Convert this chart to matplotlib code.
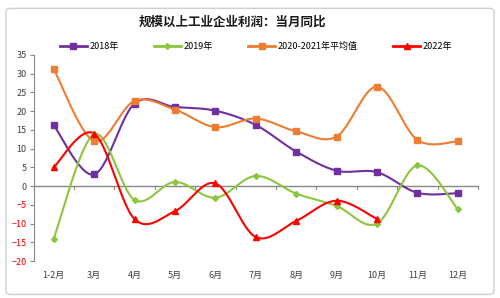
import numpy as np
import matplotlib
matplotlib.use('Agg')
import matplotlib.pyplot as plt
from matplotlib.patches import FancyBboxPatch

plt.rcParams['font.family'] = ['Noto Sans CJK SC', 'DejaVu Sans']

# data
months = ['1-2月', '3月', '4月', '5月', '6月', '7月', '8月', '9月', '10月', '11月', '12月']
y2018 = [16.2, 3.1, 22.0, 21.1, 20.1, 16.3, 9.2, 4.1, 3.7, -1.8, -1.9]
y2019 = [-14.0, 13.8, -3.7, 1.1, -3.1, 2.7, -2.0, -5.3, -10.0, 5.5, -6.2]
yavg = [31.2, 12.0, 22.7, 20.4, 15.7, 18.0, 14.6, 13.2, 26.5, 12.3, 11.9]
y2022 = [5.0, 14.0, -8.8, -6.7, 0.7, -13.6, -9.3, -3.9, -8.8]

def smooth(xs, ys, n=30):
    # excel style smoothed line (catmull-rom bezier)
    xs = np.asarray(xs, float)
    ys = np.asarray(ys, float)
    px = np.concatenate([[xs[0]], xs, [xs[-1]]])
    py = np.concatenate([[ys[0]], ys, [ys[-1]]])
    outx, outy = [], []
    t = np.linspace(0, 1, n)
    for i in range(1, len(px) - 2):
        p0 = np.array([px[i], py[i]])
        p3 = np.array([px[i + 1], py[i + 1]])
        p1 = p0 + (np.array([px[i + 1], py[i + 1]]) - np.array([px[i - 1], py[i - 1]])) / 6
        p2 = p3 - (np.array([px[i + 2], py[i + 2]]) - np.array([px[i], py[i]])) / 6
        b = ((1 - t) ** 3)[:, None] * p0 + (3 * (1 - t) ** 2 * t)[:, None] * p1 \
            + (3 * (1 - t) * t ** 2)[:, None] * p2 + (t ** 3)[:, None] * p3
        outx.extend(b[:, 0])
        outy.extend(b[:, 1])
    return outx, outy

fig = plt.figure(figsize=(5, 2.98), dpi=100)
ax = fig.add_axes([0.067, 0.124, 0.889, 0.692])

series = [
    ('2018年', y2018, '#7030A0', 's', 5),
    ('2019年', y2019, '#8CC63E', 'D', 3),
    ('2020-2021年平均值', yavg, '#ED7D31', 's', 5),
    ('2022年', y2022, '#FF0000', '^', 4),
]
handles = []
for name, vals, col, mk, ms in series:
    x = np.arange(len(vals))
    sx, sy = smooth(x, vals)
    ax.plot(sx, sy, color=col, lw=1.5, zorder=3)
    ax.plot(x, vals, ls='none', marker=mk, ms=ms, color=col, zorder=4)
    h, = ax.plot([], [], color=col, lw=2, marker=mk, ms=ms)
    handles.append(h)

ax.set_xlim(-0.5, len(months) - 0.5)
ax.set_ylim(-20, 35)
ax.set_yticks(range(-20, 40, 5))
ax.tick_params(axis='y', labelsize=6.5, length=3, color='#888888', pad=2)
for lab in ax.get_yticklabels():
    if float(lab.get_text().replace('−', '-')) < 0:
        lab.set_color('#FF0000')
    else:
        lab.set_color('#404040')

ax.set_xticks(range(len(months)))
ax.set_xticklabels(months, fontsize=6.5, color='#404040')
ax.tick_params(axis='x', length=0, pad=7)
for s in ['top', 'right', 'bottom']:
    ax.spines[s].set_visible(False)
ax.spines['left'].set_color('#888888')
ax.axhline(0, color='#888888', lw=1, zorder=2)
for b in np.arange(-0.5, len(months), 1.0):
    ax.plot([b, b], [0, -0.8], color='#888888', lw=0.8, clip_on=False, zorder=2)

fig.text(0.464, 0.925, '规模以上工业企业利润：当月同比', ha='center', va='center',
         fontsize=9, fontweight='bold', color='#1a1a1a')
fig.legend(handles, [s[0] for s in series], loc='center', ncol=4,
           bbox_to_anchor=(0.512, 0.845), frameon=False, fontsize=6.5,
           handlelength=3, columnspacing=3.9, handletextpad=0.3)

frame = FancyBboxPatch((0.012, 0.012), 0.976, 0.96, boxstyle='round,pad=0,rounding_size=0.01',
                       transform=fig.transFigure, fill=False, ec='#d0d0d0', lw=1)
fig.patches.append(frame)

fig.savefig('out.png', dpi=100)
